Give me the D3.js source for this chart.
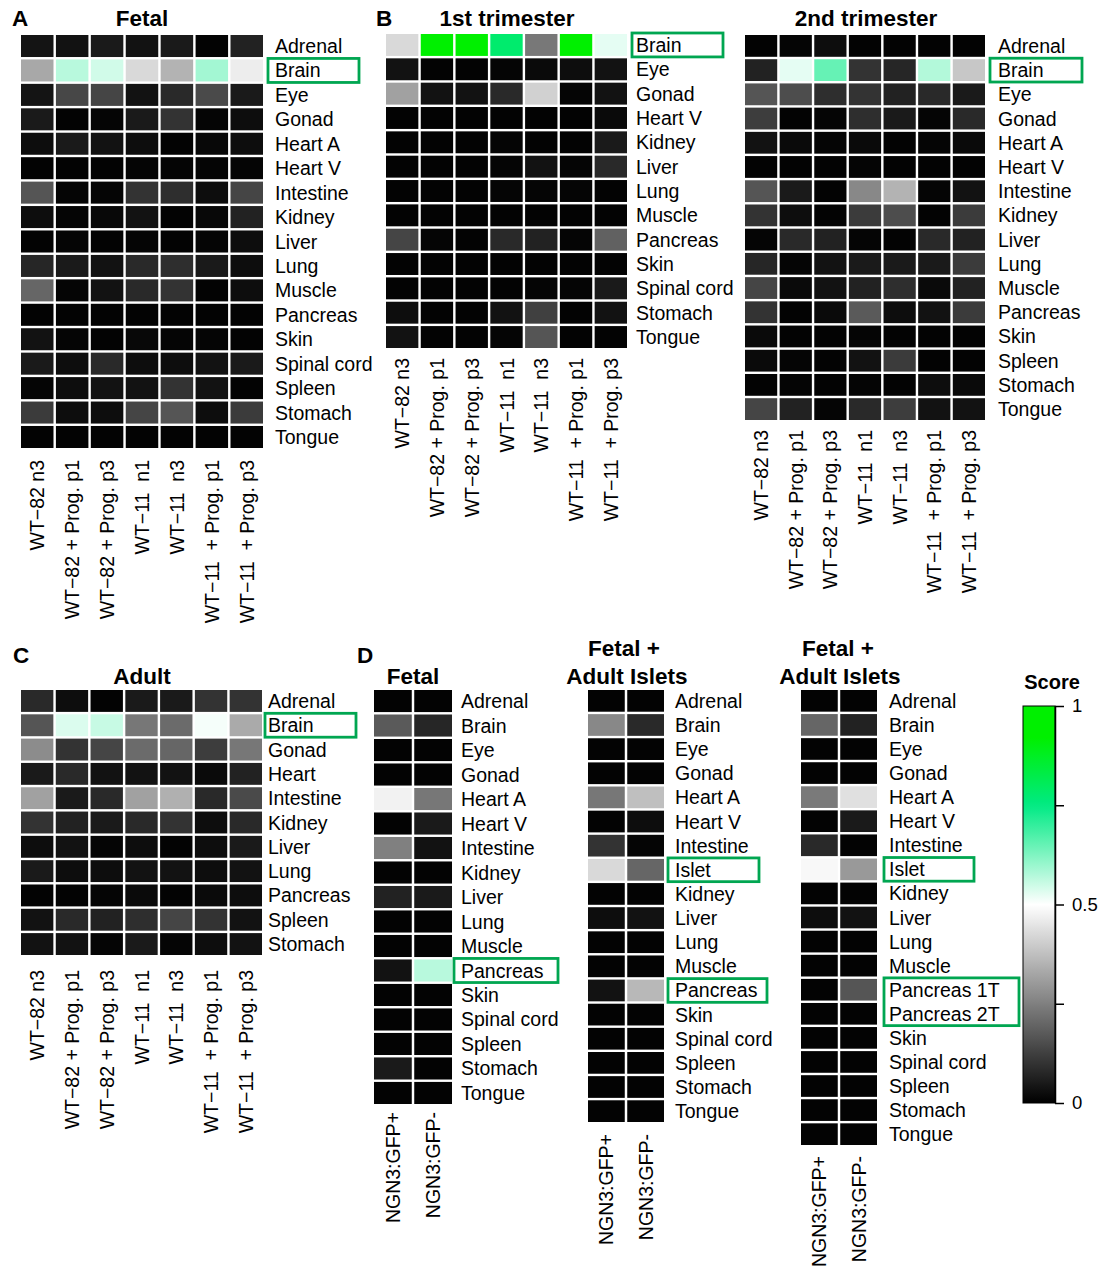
<!DOCTYPE html>
<html>
<head>
<meta charset="utf-8">
<script src="https://cdn.jsdelivr.net/npm/d3@7"></script>
<style>
  html, body { margin: 0; padding: 0; background: #fff; }
  svg { display: block; font-family: "Liberation Sans", Arial, sans-serif; }
</style>
</head>
<body>
<svg id="chart" width="1102" height="1271"></svg>
<script>
// ---- Row / column categories ----
const fetalTissues = ["Adrenal","Brain","Eye","Gonad","Heart A","Heart V","Intestine","Kidney","Liver","Lung","Muscle","Pancreas","Skin","Spinal cord","Spleen","Stomach","Tongue"];
const trim1Tissues = ["Brain","Eye","Gonad","Heart V","Kidney","Liver","Lung","Muscle","Pancreas","Skin","Spinal cord","Stomach","Tongue"];
const trim2Tissues = ["Adrenal","Brain","Eye","Gonad","Heart A","Heart V","Intestine","Kidney","Liver","Lung","Muscle","Pancreas","Skin","Spleen","Stomach","Tongue"];
const adultTissues = ["Adrenal","Brain","Gonad","Heart","Intestine","Kidney","Liver","Lung","Pancreas","Spleen","Stomach"];
const ngnFetalTissues = ["Adrenal","Brain","Eye","Gonad","Heart A","Heart V","Intestine","Kidney","Liver","Lung","Muscle","Pancreas","Skin","Spinal cord","Spleen","Stomach","Tongue"];
const ngnIsletTissues = ["Adrenal","Brain","Eye","Gonad","Heart A","Heart V","Intestine","Islet","Kidney","Liver","Lung","Muscle","Pancreas","Skin","Spinal cord","Spleen","Stomach","Tongue"];
const ngnIslet2Tissues = ["Adrenal","Brain","Eye","Gonad","Heart A","Heart V","Intestine","Islet","Kidney","Liver","Lung","Muscle","Pancreas 1T","Pancreas 2T","Skin","Spinal cord","Spleen","Stomach","Tongue"];

const cellLines = ["WT\u221282 n3","WT\u221282 + Prog. p1","WT\u221282 + Prog. p3","WT\u221211  n1","WT\u221211  n3","WT\u221211  + Prog. p1","WT\u221211  + Prog. p3"];
const ngnSamples = ["NGN3:GFP+","NGN3:GFP-"];

// ---- Scores (rows follow the tissue lists, columns follow the sample lists) ----
const fetalScores = [
  [0.04,0.035,0.05,0.035,0.05,0.005,0.067],
  [0.33,0.57,0.545,0.425,0.35,0.59,0.465],
  [0.04,0.14,0.135,0.035,0.08,0.145,0.05],
  [0.05,0.005,0.01,0.05,0.10,0.01,0.025],
  [0.025,0.05,0.035,0.025,0.005,0.015,0.025],
  [0.005,0.005,0.005,0.01,0.01,0.01,0.01],
  [0.167,0.01,0.01,0.10,0.09,0.025,0.135],
  [0.025,0.01,0.015,0.035,0.005,0.015,0.067],
  [0.005,0.01,0.005,0.01,0.005,0.01,0.025],
  [0.075,0.05,0.035,0.08,0.09,0.05,0.025],
  [0.20,0.01,0.035,0.08,0.10,0.005,0.025],
  [0.005,0.005,0.005,0.005,0.005,0.005,0.005],
  [0.035,0.01,0.005,0.015,0.01,0.01,0.005],
  [0.05,0.025,0.08,0.025,0.025,0.035,0.05],
  [0.01,0.025,0.035,0.035,0.10,0.035,0.005],
  [0.115,0.025,0.025,0.135,0.167,0.025,0.115],
  [0.005,0.005,0.005,0.005,0.005,0.005,0.005]
];
const trim1Scores = [
  [0.425,0.99,0.99,0.78,0.235,0.97,0.525],
  [0.035,0.005,0.005,0.01,0.02,0.025,0.035],
  [0.315,0.035,0.035,0.08,0.41,0.01,0.035],
  [0.005,0.005,0.005,0.005,0.005,0.005,0.02],
  [0.005,0.005,0.005,0.01,0.005,0.005,0.05],
  [0.005,0.005,0.005,0.01,0.035,0.01,0.08],
  [0.005,0.005,0.005,0.01,0.01,0.01,0.005],
  [0.005,0.005,0.005,0.005,0.005,0.005,0.005],
  [0.135,0.01,0.005,0.08,0.067,0.01,0.19],
  [0.005,0.005,0.005,0.005,0.005,0.005,0.005],
  [0.005,0.005,0.005,0.005,0.01,0.01,0.05],
  [0.025,0.005,0.005,0.035,0.125,0.005,0.035],
  [0.035,0.005,0.005,0.01,0.167,0.005,0.005]
];
const trim2Scores = [
  [0.005,0.01,0.025,0.005,0.005,0.005,0.005],
  [0.067,0.525,0.65,0.10,0.075,0.575,0.39],
  [0.167,0.15,0.09,0.10,0.067,0.08,0.05],
  [0.12,0.005,0.01,0.09,0.05,0.01,0.08],
  [0.035,0.02,0.01,0.02,0.005,0.01,0.02],
  [0.005,0.005,0.005,0.01,0.005,0.005,0.005],
  [0.167,0.05,0.005,0.267,0.35,0.01,0.035],
  [0.10,0.025,0.005,0.115,0.15,0.005,0.115],
  [0.01,0.08,0.067,0.01,0.005,0.08,0.067],
  [0.075,0.01,0.035,0.05,0.05,0.05,0.115],
  [0.135,0.02,0.035,0.067,0.09,0.02,0.067],
  [0.10,0.005,0.02,0.177,0.025,0.035,0.115],
  [0.02,0.005,0.005,0.01,0.005,0.005,0.005],
  [0.02,0.01,0.005,0.035,0.115,0.005,0.005],
  [0.005,0.01,0.005,0.01,0.005,0.025,0.02],
  [0.135,0.067,0.01,0.08,0.12,0.035,0.035]
];
const adultScores = [
  [0.08,0.025,0.005,0.05,0.05,0.10,0.10],
  [0.167,0.535,0.555,0.233,0.21,0.51,0.333],
  [0.275,0.10,0.135,0.21,0.20,0.12,0.233],
  [0.05,0.08,0.035,0.035,0.035,0.02,0.067],
  [0.315,0.05,0.08,0.315,0.345,0.08,0.145],
  [0.10,0.067,0.05,0.08,0.10,0.025,0.08],
  [0.025,0.035,0.01,0.025,0.005,0.025,0.05],
  [0.05,0.025,0.025,0.035,0.035,0.025,0.035],
  [0.005,0.005,0.01,0.02,0.005,0.02,0.025],
  [0.035,0.08,0.067,0.09,0.135,0.10,0.035],
  [0.035,0.035,0.01,0.05,0.01,0.025,0.035]
];
const ngnFetalScores = [
  [0.005,0.005],[0.177,0.075],[0.005,0.005],[0.005,0.005],[0.475,0.233],
  [0.005,0.05],[0.25,0.035],[0.005,0.005],[0.067,0.05],[0.005,0.005],
  [0.005,0.005],[0.035,0.57],[0.005,0.005],[0.005,0.005],[0.005,0.005],
  [0.05,0.005],[0.005,0.005]
];
const ngnIsletScores = [
  [0.005,0.005],[0.267,0.08],[0.005,0.005],[0.005,0.005],[0.233,0.375],
  [0.005,0.025],[0.10,0.01],[0.425,0.20],[0.005,0.005],[0.025,0.035],
  [0.005,0.005],[0.005,0.005],[0.035,0.36],[0.005,0.005],[0.005,0.005],
  [0.005,0.005],[0.005,0.005],[0.005,0.005]
];
const ngnIslet2Scores = [
  [0.005,0.005],[0.20,0.067],[0.005,0.005],[0.005,0.005],[0.24,0.44],
  [0.005,0.05],[0.08,0.005],[0.487,0.30],[0.005,0.005],[0.025,0.035],
  [0.005,0.005],[0.005,0.005],[0.005,0.167],[0.005,0.005],[0.005,0.005],
  [0.005,0.005],[0.005,0.005],[0.005,0.005],[0.005,0.005]
];

const scoreTicks = [0, 0.25, 0.5, 0.75, 1];
const scoreTickLabels = ["0", "", "0.5", "", "1"];

// ---- Colour scale: black -> white -> green ----
const color = d3.scaleLinear()
  .domain([0, 0.5, 0.75, 0.92, 1])
  .range(["#000000", "#ffffff", "#00ea84", "#00f000", "#00f000"])
  .interpolate(d3.interpolateRgb)
  .clamp(true);

const HILITE = "#00a651";
const svg = d3.select("#chart");

// ---- Panel layout ----
const panels = [
  { rows: fetalTissues, cols: cellLines, values: fetalScores,
    x: [21, 263], y: [35, 448], labelX: 275, colLabelGap: 12,
    boxes: [{ rows: ["Brain"], dx: -7, w: 91 }] },
  { rows: trim1Tissues, cols: cellLines, values: trim1Scores,
    x: [386, 627], y: [34, 348], labelX: 636, colLabelGap: 10,
    boxes: [{ rows: ["Brain"], dx: -4, w: 91 }] },
  { rows: trim2Tissues, cols: cellLines, values: trim2Scores,
    x: [745, 985], y: [35, 420], labelX: 998, colLabelGap: 10,
    boxes: [{ rows: ["Brain"], dx: -8, w: 92 }] },
  { rows: adultTissues, cols: cellLines, values: adultScores,
    x: [21, 262], y: [690, 955], labelX: 268, colLabelGap: 15,
    boxes: [{ rows: ["Brain"], dx: -3, w: 91 }] },
  { rows: ngnFetalTissues, cols: ngnSamples, values: ngnFetalScores,
    x: [374, 452], y: [690, 1104], labelX: 461, colLabelGap: 8,
    boxes: [{ rows: ["Pancreas"], dx: -7, w: 104 }] },
  { rows: ngnIsletTissues, cols: ngnSamples, values: ngnIsletScores,
    x: [588, 664], y: [690, 1122], labelX: 675, colLabelGap: 12,
    boxes: [{ rows: ["Islet"], dx: -7, w: 91 }, { rows: ["Pancreas"], dx: -7, w: 99 }] },
  { rows: ngnIslet2Tissues, cols: ngnSamples, values: ngnIslet2Scores,
    x: [801, 877], y: [690, 1145], labelX: 889, colLabelGap: 11,
    boxes: [{ rows: ["Islet"], dx: -5, w: 90 }, { rows: ["Pancreas 1T", "Pancreas 2T"], dx: -5, w: 135 }] }
];

const GAP = 2.4;

panels.forEach(p => {
  const g = svg.append("g");
  const colStep = (p.x[1] - p.x[0]) / p.cols.length;
  const rowStep = (p.y[1] - p.y[0]) / p.rows.length;
  const xs = d3.scaleBand().domain(p.cols).range(p.x).paddingInner(GAP / colStep).paddingOuter(0);
  const ys = d3.scaleBand().domain(p.rows).range(p.y).paddingInner(GAP / rowStep).paddingOuter(0);

  const cells = [];
  p.rows.forEach((r, i) => p.cols.forEach((c, j) => cells.push({ r, c, v: p.values[i][j] })));

  g.selectAll("rect.cell").data(cells).join("rect")
    .attr("class", "cell")
    .attr("x", d => xs(d.c))
    .attr("y", d => ys(d.r))
    .attr("width", xs.bandwidth())
    .attr("height", ys.bandwidth())
    .attr("fill", d => color(d.v));

  // tissue labels
  g.selectAll("text.row").data(p.rows).join("text")
    .attr("class", "row")
    .attr("x", p.labelX)
    .attr("y", d => ys(d) + ys.bandwidth() / 2)
    .attr("dy", "0.36em")
    .attr("font-size", 19.5)
    .attr("fill", "#000")
    .text(d => d);

  // sample labels, rotated
  g.selectAll("text.col").data(p.cols).join("text")
    .attr("class", "col")
    .attr("transform", d => `translate(${xs(d) + xs.bandwidth() / 2},${p.y[1] + p.colLabelGap}) rotate(-90)`)
    .attr("text-anchor", "end")
    .attr("dy", "0.36em")
    .attr("font-size", 19.5)
    .style("white-space", "pre")
    .attr("fill", "#000")
    .text(d => d);

  // highlighted tissues
  p.boxes.forEach(b => {
    const top = ys(b.rows[0]);
    const bottom = ys(b.rows[b.rows.length - 1]) + ys.bandwidth();
    g.append("rect")
      .attr("x", p.labelX + b.dx)
      .attr("y", top - 1)
      .attr("width", b.w)
      .attr("height", bottom - top + 2)
      .attr("fill", "none")
      .attr("stroke", HILITE)
      .attr("stroke-width", 2.8);
  });
});

// ---- Titles and panel letters ----
const titles = [
  { t: "A", x: 12, y: 26, a: "start" },
  { t: "Fetal", x: 142, y: 26, a: "middle" },
  { t: "B", x: 376, y: 26, a: "start" },
  { t: "1st trimester", x: 507, y: 26, a: "middle" },
  { t: "2nd trimester", x: 866, y: 26, a: "middle" },
  { t: "C", x: 13, y: 663, a: "start" },
  { t: "Adult", x: 142, y: 684, a: "middle" },
  { t: "D", x: 357, y: 663, a: "start" },
  { t: "Fetal", x: 413, y: 684, a: "middle" },
  { t: "Fetal +", x: 624, y: 656, a: "middle" },
  { t: "Adult Islets", x: 627, y: 684, a: "middle" },
  { t: "Fetal +", x: 838, y: 656, a: "middle" },
  { t: "Adult Islets", x: 840, y: 684, a: "middle" },
  { t: "Score", x: 1052, y: 689, a: "middle", s: 20 }
];
svg.selectAll("text.title").data(titles).join("text")
  .attr("class", "title")
  .attr("x", d => d.x).attr("y", d => d.y)
  .attr("text-anchor", d => d.a)
  .attr("font-size", d => d.s || 22.5)
  .attr("font-weight", "bold")
  .attr("fill", "#000")
  .text(d => d.t);

// ---- Colour bar ----
const cb = { x: 1023, w: 32, y0: 706, y1: 1103 };
const defs = svg.append("defs");
const grad = defs.append("linearGradient")
  .attr("id", "scoreGrad").attr("x1", 0).attr("y1", 1).attr("x2", 0).attr("y2", 0);
grad.selectAll("stop").data(d3.range(0, 1.0001, 0.02)).join("stop")
  .attr("offset", d => d)
  .attr("stop-color", d => color(d));

const cbScale = d3.scaleLinear().domain([0, 1]).range([cb.y1, cb.y0]);
svg.append("rect")
  .attr("x", cb.x).attr("y", cb.y0)
  .attr("width", cb.w).attr("height", cb.y1 - cb.y0)
  .attr("fill", "url(#scoreGrad)")
  .attr("stroke", "#000").attr("stroke-width", 1);

const cbAxis = svg.append("g")
  .attr("transform", `translate(${cb.x + cb.w},0)`)
  .call(d3.axisRight(cbScale)
    .tickValues(scoreTicks)
    .tickFormat((d, i) => scoreTickLabels[i])
    .tickSize(9)
    .tickSizeOuter(0)
    .tickPadding(8));
cbAxis.selectAll("text").attr("font-size", 18.5).attr("font-family", "Liberation Sans, Arial, sans-serif").attr("fill", "#000");
cbAxis.selectAll("line, path").attr("stroke", "#000").attr("stroke-width", 1.5);
</script>
</body>
</html>
